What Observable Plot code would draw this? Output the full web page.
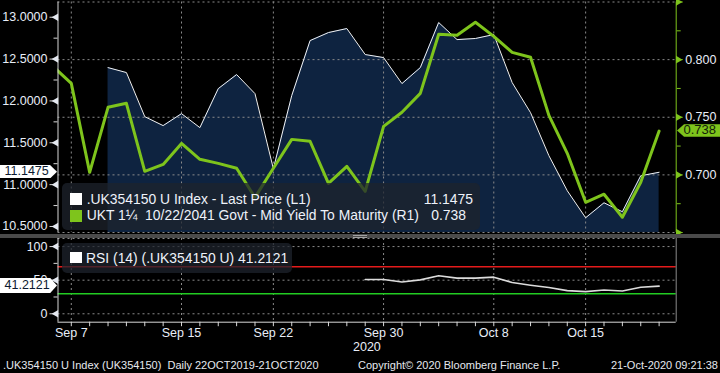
<!DOCTYPE html>
<html><head><meta charset="utf-8">
<script src="https://cdn.jsdelivr.net/npm/d3@7"></script>
<script src="https://cdn.jsdelivr.net/npm/@observablehq/plot@0.6"></script>
<style>
html,body{margin:0;padding:0;background:#000;}
body{width:720px;height:373px;overflow:hidden;position:relative;font-family:"Liberation Sans",Arial,sans-serif;color:#e8eef8;}
.abs{position:absolute;}
.legend{position:absolute;background:rgba(30,35,44,0.74);border-radius:5px;}
.sw{position:absolute;width:11.7px;height:11.7px;}
.lt{position:absolute;font-size:13.9px;line-height:1;white-space:pre;color:#eef2fa;}
.vbox{position:absolute;font-size:12.5px;line-height:1;white-space:pre;}
.foot{position:absolute;top:360px;font-size:11px;line-height:1;white-space:pre;color:#e6e9ef;}
</style></head><body>
<div id="top" class="abs" style="left:0;top:0"></div>
<div id="bot" class="abs" style="left:0;top:236px"></div>
<div class="abs" style="left:0;top:234px;width:720px;height:4px;background:#4a4a4a"></div>
<div class="abs" style="left:353px;top:235px;width:14px;height:1px;border-top:1px solid #a0a0a0;border-bottom:1px solid #a0a0a0"></div>
<div id="legTop" class="legend" style="left:62px;top:183.3px;width:418px;height:46.7px"></div>
<div id="legBot" class="legend" style="left:62px;top:243.3px;width:230px;height:29.7px"></div>
<div id="boxes"></div>
<div id="year" class="abs" style="left:353px;top:341px;font-size:12.5px;line-height:1;"></div>
<div id="f1" class="foot" style="left:3px"></div>
<div id="f2" class="foot" style="left:358px"></div>
<div id="f3" class="foot" style="right:2px"></div>
<script>
// ---- data ----
const dates = ["Sep 4","Sep 7","Sep 8","Sep 9","Sep 10","Sep 11","Sep 14","Sep 15","Sep 16","Sep 17","Sep 18",
  "Sep 21","Sep 22","Sep 23","Sep 24","Sep 25","Sep 28","Sep 29","Sep 30","Oct 1","Oct 2","Oct 5","Oct 6",
  "Oct 7","Oct 8","Oct 9","Oct 12","Oct 13","Oct 14","Oct 15","Oct 16","Oct 19","Oct 20","Oct 21"];
const priceValues = [null,null,null,12.398,12.339,11.812,11.705,11.848,11.681,12.147,12.315,
  12.087,11.190,12.063,12.721,12.817,12.865,12.554,12.518,12.207,12.398,12.937,12.733,
  12.746,12.793,12.219,11.860,11.346,10.927,10.604,10.783,10.676,11.106,11.1475];
const yieldValues = [0.7942,0.7794,0.7022,0.7586,0.7621,0.7031,0.7091,0.7273,0.7135,0.7100,0.7057,
  0.6805,0.7057,0.7308,0.7291,0.6926,0.7074,0.6857,0.7421,0.7543,0.7707,0.8220,0.8211,
  0.8324,0.8202,0.8063,0.8020,0.7516,0.7187,0.6762,0.6832,0.6632,0.6936,0.738];
const rsiValues = [null,null,null,null,null,null,null,null,null,null,null,
  null,null,null,null,null,null,51.0,51.0,47.4,50.5,56.5,53.0,
  53.0,54.5,46.5,42.5,39.0,34.5,33.0,35.4,33.9,39.5,41.2121];
const tickLabels = ["Sep 7","Sep 15","Sep 22","Sep 30","Oct 8","Oct 15"];
const leftTicks = [10.5,11,11.5,12,12.5,13];
const leftMinor = [10.75,11.25,11.75,12.25,12.75];
const rightTicks = [0.65,0.70,0.75,0.80,0.85];
const rightMinor = [0.675,0.725,0.775,0.825];
const rsiTicks = [0,50,100];
const rsiMinor = [25,75];
const rsiBands = [70,30];
const seriesNames = [".UK354150 U Index - Last Price (L1)","UKT 1\u00BC  10/22/2041 Govt - Mid Yield To Maturity (R1)"];
const rsiName = "RSI (14) (.UK354150 U)";
const yearLabel = "2020";
const footer = [".UK354150 U Index (UK354150)  Daily 22OCT2019-21OCT2020","Copyright\u00A9 2020 Bloomberg Finance L.P.","21-Oct-2020 09:21:38"];

// ---- setup ----
const FONT = '"Liberation Sans", Arial, sans-serif';
const TXT = "#e8eef8", GRID = "#8a8a8a", NAVY = "#0e2340", GREEN = "#7ec41c", AX = "#d8d8d8";
const xDomain = [0.276, 33.93];
const yL = [10.428, 13.182];
const yR = [0.65, 0.85];
const rsiDomain = [-12.5, 112];
const toLeft = r => yL[0] + (r - yR[0]) * (yL[1] - yL[0]) / (yR[1] - yR[0]);
const fromLeft = l => yR[0] + (l - yL[0]) * (yR[1] - yR[0]) / (yL[1] - yL[0]);
const rows = dates.map((d, i) => ({i, date: d, price: priceValues[i], yld: yieldValues[i], rsi: rsiValues[i]}));
const priceRows = rows.filter(d => d.price != null);
const rsiRows = rows.filter(d => d.rsi != null);
const tickIdx = tickLabels.map(l => dates.indexOf(l));
const allIdx = rows.map(d => d.i).filter(i => i >= xDomain[0] && i <= xDomain[1]);
const dash = {stroke: GRID, strokeOpacity: 1, strokeDasharray: "2,3"};
const style = {background: "transparent", color: TXT, fontFamily: FONT, fontSize: "12.5px"};
const tri = (vals, side, color) => Plot.dot(vals, {y: d => d, frameAnchor: side, symbol: "triangle",
  rotate: side === "left" ? -90 : 90, r: 2.8, dx: side === "left" ? -2 : 2, fill: color, stroke: null});

const topChart = Plot.plot({
  width: 720, height: 234, marginTop: 1.5, marginBottom: 2, marginLeft: 57.5, marginRight: 44.3,
  x: {domain: xDomain, axis: null},
  y: {domain: yL, axis: null},
  style,
  marks: [
    Plot.areaY(priceRows, {x: "i", y1: yL[0], y2: "price", fill: NAVY}),
    Plot.gridX(tickIdx, dash),
    Plot.gridY(rightTicks.map(toLeft), dash),
    Plot.lineY(priceRows, {x: "i", y: "price", stroke: "#f2f2f2", strokeWidth: 1}),
    Plot.lineY(rows, {x: "i", y: d => toLeft(d.yld), stroke: GREEN, strokeWidth: 3, clip: true}),
    Plot.ruleX([xDomain[0]], {stroke: AX}),
    Plot.ruleX([xDomain[1]], {stroke: GREEN}),
    Plot.axisY(leftTicks, {anchor: "left", label: null, tickSize: 8, tickPadding: 2.5, tickFormat: d => d.toFixed(4), stroke: AX}),
    Plot.axisY(leftMinor, {anchor: "left", label: null, tickSize: 4, tickFormat: () => "", stroke: AX}),
    tri(leftTicks, "left", "#e4e8f0"),
    Plot.axisY(rightTicks.map(toLeft), {anchor: "right", label: null, tickSize: 6, tickPadding: 3, stroke: GREEN,
      tickFormat: d => { const v = fromLeft(d); return (v > 0.66 && v < 0.84) ? v.toFixed(3) : ""; }}),
    Plot.axisY(rightMinor.map(toLeft), {anchor: "right", label: null, tickSize: 4, tickFormat: () => "", stroke: GREEN}),
    tri(rightTicks.map(toLeft), "right", GREEN)
  ]
});
document.getElementById("top").append(topChart);

const botChart = Plot.plot({
  width: 720, height: 120, marginTop: 2, marginBottom: 34.3, marginLeft: 57.5, marginRight: 44.3,
  x: {domain: xDomain, axis: null},
  y: {domain: rsiDomain, axis: null},
  style,
  marks: [
    Plot.gridX(tickIdx, dash),
    Plot.gridY(rsiTicks, dash),
    Plot.ruleY([rsiDomain[1]], dash),
    Plot.ruleY([rsiBands[0]], {stroke: "#e41b1b", strokeWidth: 1.5}),
    Plot.ruleY([rsiBands[1]], {stroke: "#22cc22", strokeWidth: 1.5}),
    Plot.lineY(rsiRows, {x: "i", y: "rsi", stroke: "#dcdcdc", strokeWidth: 1.6}),
    Plot.ruleX([xDomain[0]], {stroke: AX}),
    Plot.ruleX([xDomain[1]], {stroke: GRID}),
    Plot.ruleY([rsiDomain[0]], {stroke: AX}),
    Plot.axisY(rsiTicks, {anchor: "left", label: null, tickSize: 8, tickPadding: 2.5, stroke: AX}),
    Plot.axisY(rsiMinor, {anchor: "left", label: null, tickSize: 4, tickFormat: () => "", stroke: AX}),
    tri(rsiTicks, "left", "#e4e8f0"),
    Plot.axisX(allIdx, {anchor: "bottom", label: null, tickSize: 4.5, tickFormat: () => "", stroke: AX}),
    Plot.axisX(tickIdx, {anchor: "bottom", label: null, tickSize: 0, tickPadding: 5.5, tickFormat: d => dates[d]})
  ]
});
document.getElementById("bot").append(botChart);

// ---- legends ----
const legTop = document.getElementById("legTop");
const lastPrice = priceValues[priceValues.length - 1];
const lastYield = yieldValues[yieldValues.length - 1];
const lastRsi = rsiValues[rsiValues.length - 1];
legTop.innerHTML =
  `<div class="sw" style="left:8px;top:10px;background:#ffffff"></div>` +
  `<div class="sw" style="left:8px;top:26.7px;background:${GREEN}"></div>` +
  `<div class="lt" style="left:24.7px;top:10.1px">${seriesNames[0]}</div>` +
  `<div class="lt" style="left:24.7px;top:25.8px">${seriesNames[1]}</div>` +
  `<div class="lt" style="right:7px;top:10.1px">${lastPrice.toFixed(4)}</div>` +
  `<div class="lt" style="right:14px;top:25.8px">${lastYield.toFixed(3)}</div>`;
document.getElementById("legBot").innerHTML =
  `<div class="sw" style="left:8px;top:8.4px;background:#ffffff"></div>` +
  `<div class="lt" style="left:24px;top:9.1px">${rsiName} ${lastRsi.toFixed(4)}</div>`;

// ---- value boxes on axes ----
const yTop = topChart.scale("y"), yBot = botChart.scale("y");
const boxes = document.getElementById("boxes");
function leftBox(cy, h, text) {
  const d = document.createElement("div");
  d.className = "vbox";
  Object.assign(d.style, {left: "0px", top: (cy - h / 2) + "px", width: "57px", height: h + "px",
    background: "#ffffff", color: "#0c1a30", lineHeight: h + "px",
    clipPath: "polygon(0 0, calc(100% - 7px) 0, 100% 50%, calc(100% - 7px) 100%, 0 100%)"});
  d.innerHTML = `<span style="position:absolute;left:4.5px">${text}</span>`;
  boxes.append(d);
}
leftBox(yTop.apply(lastPrice), 13.4, lastPrice.toFixed(4));
leftBox(236 + yBot.apply(lastRsi), 15.5, lastRsi.toFixed(4));
{
  const cy = yTop.apply(toLeft(lastYield)), h = 12.6;
  const d = document.createElement("div");
  d.className = "vbox";
  Object.assign(d.style, {left: "677px", top: (cy - h / 2) + "px", width: "43px", height: h + "px",
    background: GREEN, color: "#13200a", fontSize: "13px", lineHeight: h + "px",
    clipPath: "polygon(7px 0, 100% 0, 100% 100%, 7px 100%, 0 50%)"});
  d.innerHTML = `<span style="position:absolute;left:6.5px">${lastYield.toFixed(3)}</span>`;
  boxes.append(d);
}
document.getElementById("year").textContent = yearLabel;
document.getElementById("f1").textContent = footer[0];
document.getElementById("f2").textContent = footer[1];
document.getElementById("f3").textContent = footer[2];
</script>
</body></html>
